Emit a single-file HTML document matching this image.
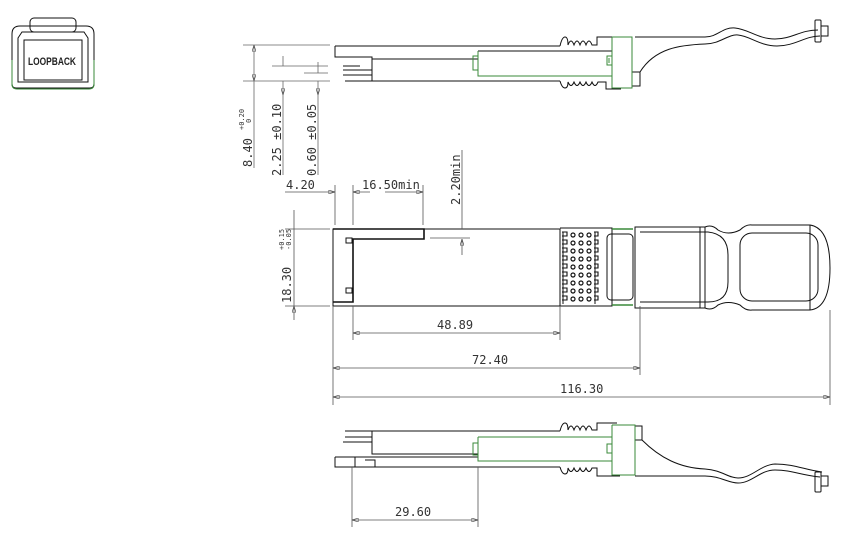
<!DOCTYPE html>
<html><head><meta charset="utf-8"><style>
html,body{margin:0;padding:0;background:#fff;width:855px;height:534px;overflow:hidden}
svg{display:block}
text{font-family:"Liberation Sans",sans-serif;fill:#222}
.d{font-family:"DejaVu Sans Mono","Liberation Mono",monospace;font-size:12px;fill:#333}
.s{font-family:"DejaVu Sans Mono","Liberation Mono",monospace;font-size:7px;fill:#333}
</style></head><body>
<svg width="855" height="534" viewBox="0 0 855 534" xmlns="http://www.w3.org/2000/svg">
<defs>
<marker id="a" viewBox="0 0 10 6" refX="10" refY="3" markerWidth="8" markerHeight="5" orient="auto-start-reverse"><path d="M0,0 L10,3 L0,6 Z" fill="none" stroke="#444" stroke-width="1"/></marker>
</defs>
<g fill="none" stroke="#111" stroke-width="1">
<rect x="30" y="18" width="46" height="14" rx="4"/>
<path d="M12,34 Q12,26 20,26 H86 Q94,26 94,34 V84 Q94,88 90,88 H16 Q12,88 12,84 Z"/>
<path d="M22,32 H84 L88,38 V82 H18 V38 Z"/>
<rect x="24" y="40" width="58" height="40"/>
<path d="M12,60 V84 Q12,89 17,89 H89 Q94,89 94,84 V60" stroke="#3a8a3a"/>
</g>
<text x="28" y="65" font-size="11" font-weight="bold" style="font-family:'Liberation Sans Narrow','Liberation Sans',sans-serif" textLength="48" lengthAdjust="spacingAndGlyphs">LOOPBACK</text>

<!-- TOP SIDE VIEW -->
<g fill="none" stroke="#111" stroke-width="1">
<path d="M335,46 H560 M335,46 V57 H372 V81 M372,59 H478 M345,81 H560"/>
<path d="M560,46 q2,-9 5,-9 q3,0 3,8 q3,-8 6,0 q3,-8 6,0 q3,-8 6,0 q3,-8 6,0 h5 v-8 h20"/>
<path d="M560,81 q2,7 5,7 q3,0 3,-6 q3,7 6,0 q3,7 6,0 q3,7 6,0 q3,7 6,0 q3,7 6,0 h8 v7 h15"/>
<path d="M478,51 H612" />
<path d="M343,66 H360 M343,70 H372 M343,75 H372"/>
<path d="M635,37 H705 C718,37 722,27 735,28 C748,29 758,39 775,39 C792,39 800,30 818,30 M640,72 C655,48 680,45 705,44 C720,44 728,34 738,35 C750,36 760,46 777,46 C795,46 805,36 820,36"/>
<rect x="815" y="20" width="6" height="22" rx="1"/>
<path d="M821,26 H828 V36 H821"/>
<rect x="632" y="72" width="8" height="14"/>
</g>
<g fill="none" stroke="#3a8a3a" stroke-width="1">
<path d="M478,51 V76 H612 M612,37 V88 H632 V37 H612 M478,56 H473 V70 H478"/>
<path d="M612,56 h-5 v9 h5 M609,58 v5"/>
</g>
<g stroke="#666" stroke-width="0.8" fill="none">
<path d="M243,45 H330 M243,81 H330 M272,66 H328 M304,73 H328"/>
<path d="M254,45 V81" marker-start="url(#a)" marker-end="url(#a)"/>
<path d="M283,56 V66 M283,81 V95" marker-end="url(#a)"/>
<path d="M283,95 V175 M318,95 V175 M254,81 V168"/>
<path d="M318,62 V73 M318,81 V95" marker-end="url(#a)"/>
</g>
<text class="d" transform="translate(252,167) rotate(-90)">8.40</text>
<text class="s" transform="translate(244,130) rotate(-90)">+0.20</text>
<text class="s" transform="translate(251,123) rotate(-90)">0</text>
<text class="d" transform="translate(281,176) rotate(-90)">2.25 ±0.10</text>
<text class="d" transform="translate(316,176) rotate(-90)">0.60 ±0.05</text>

<!-- MIDDLE TOP VIEW -->
<g fill="none" stroke="#111" stroke-width="1">
<rect x="333" y="229" width="227" height="77"/>
<path d="M333,229 H424 V239 H353 V302 H333" stroke-width="1.6"/>
<rect x="346" y="238" width="6" height="5"/>
<rect x="346" y="288" width="6" height="5"/>
<path d="M560,228 H612 V306 H560"/>
<rect x="607" y="234" width="26" height="66" rx="4"/>
<path d="M635,227 H705 Q712,224 718,230 Q728,236 740,230 Q746,224 752,225 H810 Q830,228 830,268 Q830,308 810,310 H752 Q746,311 740,305 Q728,300 718,305 Q712,311 705,308 H635 Z"/>
<path d="M640,232 H708 Q728,234 728,255 V282 Q728,302 708,302 H640"/>
<rect x="740" y="233" width="78" height="68" rx="12"/>
<path d="M700,227 V308 M705,227 V308 M810,225 V310"/>
<path d="M563,232 V304 M595,232 V304"/>
</g>
<g fill="none" stroke="#111" stroke-width="1.1">
<path d="M562,232 h5 v4 h-5 M562,240 h5 v4 h-5 M562,248 h5 v4 h-5 M562,256 h5 v4 h-5 M562,264 h5 v4 h-5 M562,272 h5 v4 h-5 M562,280 h5 v4 h-5 M562,288 h5 v4 h-5 M562,296 h5 v4 h-5"/>
<path d="M594,232 h4 v4 h-4 M594,240 h4 v4 h-4 M594,248 h4 v4 h-4 M594,256 h4 v4 h-4 M594,264 h4 v4 h-4 M594,272 h4 v4 h-4 M594,280 h4 v4 h-4 M594,288 h4 v4 h-4 M594,296 h4 v4 h-4"/>
</g>
<g fill="none" stroke="#111" stroke-width="1.2">
<circle cx="573" cy="235" r="2"/><circle cx="581" cy="235" r="2"/><circle cx="589" cy="235" r="2"/>
<circle cx="573" cy="243" r="2"/><circle cx="581" cy="243" r="2"/><circle cx="589" cy="243" r="2"/>
<circle cx="573" cy="251" r="2"/><circle cx="581" cy="251" r="2"/><circle cx="589" cy="251" r="2"/>
<circle cx="573" cy="259" r="2"/><circle cx="581" cy="259" r="2"/><circle cx="589" cy="259" r="2"/>
<circle cx="573" cy="267" r="2"/><circle cx="581" cy="267" r="2"/><circle cx="589" cy="267" r="2"/>
<circle cx="573" cy="275" r="2"/><circle cx="581" cy="275" r="2"/><circle cx="589" cy="275" r="2"/>
<circle cx="573" cy="283" r="2"/><circle cx="581" cy="283" r="2"/><circle cx="589" cy="283" r="2"/>
<circle cx="573" cy="291" r="2"/><circle cx="581" cy="291" r="2"/><circle cx="589" cy="291" r="2"/>
<circle cx="573" cy="299" r="2"/><circle cx="581" cy="299" r="2"/><circle cx="589" cy="299" r="2"/>
</g>
<path d="M612,229 H633 M612,305 H633" stroke="#3a8a3a" stroke-width="1.5"/>
<g stroke="#555" stroke-width="0.8" fill="none">
<path d="M335,185 V225 M353,185 V225 M423,185 V225"/>
<path d="M285,192 H335" marker-end="url(#a)"/>
<path d="M370,192 H353" marker-end="url(#a)"/>
<path d="M385,192 H423" marker-end="url(#a)"/>
<path d="M462,150 V229 M462,255 V239" marker-end="url(#a)"/>
<path d="M430,238 H470"/>
<path d="M285,229 H330 M285,306 H330"/>
<path d="M294,210 V229 M294,320 V306" marker-end="url(#a)"/>
<path d="M294,229 V306"/>
<path d="M353,306 V340 M560,306 V340 M333,306 V405 M640,306 V375 M830,310 V405"/>
<path d="M353,333 H560" marker-start="url(#a)" marker-end="url(#a)"/>
<path d="M333,368 H640" marker-start="url(#a)" marker-end="url(#a)"/>
<path d="M333,397 H830" marker-start="url(#a)" marker-end="url(#a)"/>
</g>
<text class="d" x="286" y="189">4.20</text>
<text class="d" x="362" y="189">16.50min</text>
<text class="d" transform="translate(460,205) rotate(-90)">2.20min</text>
<text class="d" transform="translate(291,303) rotate(-90)">18.30</text>
<text class="s" transform="translate(284,250) rotate(-90)">+0.15</text>
<text class="s" transform="translate(291,250) rotate(-90)">-0.05</text>
<text class="d" x="437" y="329">48.89</text>
<text class="d" x="472" y="364">72.40</text>
<text class="d" x="560" y="393">116.30</text>

<!-- BOTTOM VIEW -->
<g fill="none" stroke="#111" stroke-width="1">
<path d="M345,431 H560 M372,431 V454 H478 M345,437 H372 M343,442 H372 M335,457 H478 M335,457 V467 H560"/>
<path d="M560,431 q2,-8 5,-8 q3,0 3,7 q3,-8 6,0 q3,-8 6,0 q3,-8 6,0 q3,-8 6,0 h5 v-7 h20"/>
<path d="M560,467 q2,7 5,7 q3,0 3,-6 q3,7 6,0 q3,7 6,0 q3,7 6,0 q3,7 6,0 h5 v8 h23"/>
<rect x="635" y="426" width="7" height="14"/>
<path d="M635,476 H705 C720,476 728,483 738,483 C752,483 760,470 775,470 C792,470 800,475 820,477 M642,440 C660,458 680,468 705,469 C722,470 728,478 738,478 C752,478 760,465 775,464 C795,464 805,470 822,472"/>
<rect x="815" y="472" width="6" height="20" rx="1"/>
<path d="M821,476 H828 V486 H821"/>
<path d="M355,457 V467 M365,460 h10 v7"/>
</g>
<g fill="none" stroke="#3a8a3a" stroke-width="1">
<path d="M478,437 H612 M478,437 V461 H612 M478,443 H473 V455 H478 M612,425 V475 H635 V425 H612"/>
<path d="M612,444 h-5 v9 h5"/>
</g>
<g stroke="#555" stroke-width="0.8" fill="none">
<path d="M352,467 V527 M478,467 V527"/>
<path d="M352,520 H478" marker-start="url(#a)" marker-end="url(#a)"/>
</g>
<text class="d" x="395" y="516">29.60</text>
</svg>
</body></html>
